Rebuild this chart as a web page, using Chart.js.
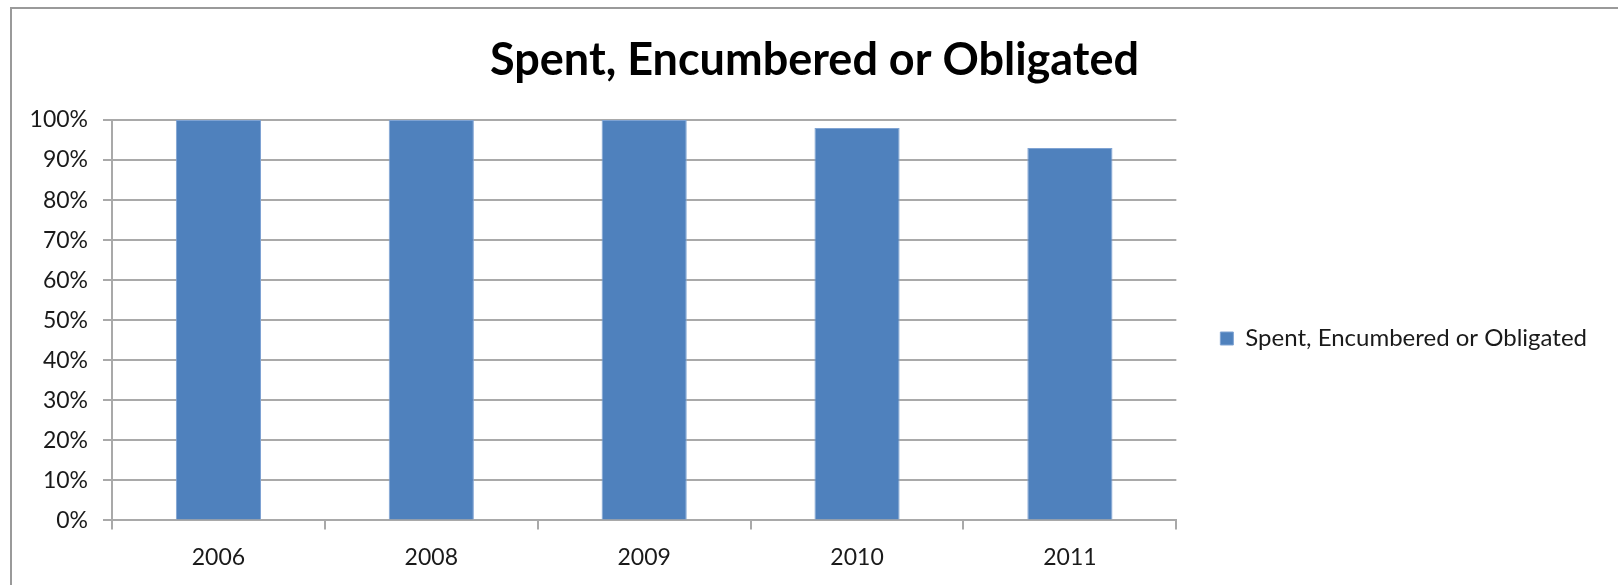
<!DOCTYPE html>
<html>
<head>
<meta charset="utf-8">
<title>Spent, Encumbered or Obligated</title>
<script src="https://cdn.jsdelivr.net/npm/chart.js@4.4.0/dist/chart.umd.min.js"></script>
<style>
  html, body { margin: 0; padding: 0; background: #fff; }
  #wrap { width: 1618px; height: 585px; position: relative; }
</style>
</head>
<body>
<div id="wrap"><canvas id="myChart" width="1618" height="585"></canvas></div>
<script>
// data
var years = ['2006', '2008', '2009', '2010', '2011'];
var spentPct = [100, 100, 100, 98, 93];
var seriesName = 'Spent, Encumbered or Obligated';

var textColor = '#1a1a1a';
var gridColor = '#a9a9a9';

// outer frame (top + left edge, the rest runs off the picture)
var framePlugin = {
  id: 'frame',
  beforeDraw: function (chart) {
    var c = chart.ctx;
    c.save();
    c.fillStyle = '#fff';
    c.fillRect(0, 0, chart.width, chart.height);
    c.strokeStyle = '#9a9a9a';
    c.lineWidth = 2;
    c.beginPath();
    c.moveTo(11, chart.height + 5);
    c.lineTo(11, 8);
    c.lineTo(chart.width + 5, 8);
    c.stroke();
    c.restore();
  }
};

// nudge legend + title to where excel puts them
var layoutTweak = {
  id: 'layoutTweak',
  afterLayout: function (chart) {
    var lg = chart.legend;
    var dx = 34, dy = 42;
    lg.left += dx; lg.right += dx;
    lg.top += dy; lg.bottom += dy;

    // title centred on the whole frame, not just the space left of the legend
    var t = chart.titleBlock;
    t.left = 11;
    t.right = chart.width;
  }
};

var ctx = document.getElementById('myChart').getContext('2d');
var chart = new Chart(ctx, {
  type: 'bar',
  data: {
    labels: years,
    datasets: [{
      label: seriesName,
      data: spentPct,
      backgroundColor: '#4f81bd',
      borderColor: '#7fa3d3',
      borderWidth: 1,
      categoryPercentage: 1,
      barPercentage: 0.4
    }]
  },
  options: {
    responsive: false,
    animation: false,
    layout: { padding: { top: 8, left: 0, right: 55, bottom: 0 } },
    plugins: {
      title: {
        display: true,
        text: 'Spent, Encumbered or Obligated',
        color: '#000',
        font: { family: 'Lato', size: 45, weight: 'bold', lineHeight: 1.2 },
        padding: { top: 25, bottom: 33 }
      },
      legend: {
        position: 'right',
        labels: {
          color: textColor,
          boxWidth: 13,
          boxHeight: 13,
          padding: 10,
          font: { family: 'Lato', size: 24 }
        }
      },
      tooltip: { enabled: false }
    },
    scales: {
      x: {
        offset: true,
        grid: {
          offset: true,
          drawOnChartArea: false,
          drawTicks: true,
          tickLength: 9,
          color: gridColor,
          lineWidth: 2
        },
        border: { color: gridColor, width: 2 },
        ticks: {
          color: textColor,
          padding: 14,
          font: { family: 'Lato', size: 23 }
        }
      },
      y: {
        min: 0,
        max: 100,
        afterFit: function (scale) { scale.width = 112; },
        grid: {
          color: gridColor,
          lineWidth: 2,
          tickLength: 9
        },
        border: { color: gridColor, width: 2 },
        ticks: {
          stepSize: 10,
          color: textColor,
          padding: 15,
          font: { family: 'Lato', size: 23 },
          callback: function (v) { return v + '%'; }
        }
      }
    }
  },
  plugins: [framePlugin, layoutTweak]
});
</script>
</body>
</html>
